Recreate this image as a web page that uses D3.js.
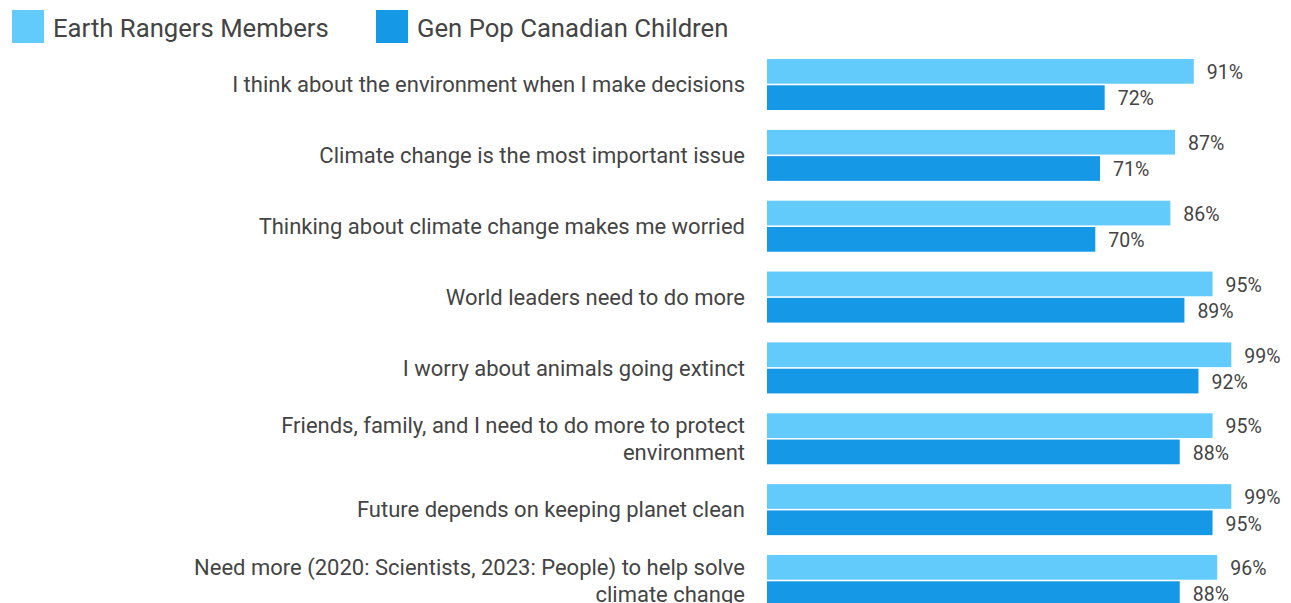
<!DOCTYPE html>
<html>
<head>
<meta charset="utf-8">
<script src="https://cdn.jsdelivr.net/npm/d3@7"></script>
<style>
body { margin: 0; background: #fff; }
text { font-family: Roboto, "Noto Sans", sans-serif; fill: #444; }
</style>
</head>
<body>
<div id="chart"></div>
<script>
// data
var categories = [
  ["I think about the environment when I make decisions"],
  ["Climate change is the most important issue"],
  ["Thinking about climate change makes me worried"],
  ["World leaders need to do more"],
  ["I worry about animals going extinct"],
  ["Friends, family, and I need to do more to protect", "environment"],
  ["Future depends on keeping planet clean"],
  ["Need more (2020: Scientists, 2023: People) to help solve", "climate change"]
];
var series = ["Earth Rangers Members", "Gen Pop Canadian Children"];
var earthRangers = [91, 87, 86, 95, 99, 95, 99, 96];
var genPop = [72, 71, 70, 89, 92, 88, 95, 88];
var colors = ["#63cbfc", "#1598e6"];

var width = 1291, height = 603;

var svg = d3.select("#chart").append("svg")
    .attr("width", width)
    .attr("height", height);

var keys = categories.map(function(d, i) { return i; });

var y0 = d3.scaleBand()
    .domain(keys)
    .range([59, 606])
    .paddingInner(0.28)
    .paddingOuter(0);

var y1 = d3.scaleBand()
    .domain([0, 1])
    .range([0, y0.bandwidth()])
    .paddingInner(0.06);

var x = d3.scaleLinear()
    .domain([0, 100])
    .range([767, 1236]);

var data = keys.map(function(i) {
  return { i: i, label: categories[i], vals: [earthRangers[i], genPop[i]] };
});

var groups = svg.selectAll(".grp")
    .data(data)
    .enter().append("g")
    .attr("class", "grp")
    .attr("transform", function(d) { return "translate(0," + y0(d.i) + ")"; });

groups.selectAll("rect")
    .data(function(d) { return d.vals; })
    .enter().append("rect")
    .attr("x", x(0))
    .attr("y", function(d, j) { return y1(j); })
    .attr("width", function(d) { return x(d) - x(0); })
    .attr("height", y1.bandwidth())
    .attr("fill", function(d, j) { return colors[j]; });

groups.selectAll(".val")
    .data(function(d) { return d.vals; })
    .enter().append("text")
    .attr("class", "val")
    .attr("x", function(d) { return x(d) + 13; })
    .attr("y", function(d, j) { return y1(j) + y1.bandwidth() / 2 + 1; })
    .attr("dy", "0.35em")
    .style("font-size", "19.5px")
    .text(function(d) { return d + "%"; });

// category labels, right aligned
groups.each(function(d) {
  var g = d3.select(this);
  var lines = d.label;
  var lh = 27;
  var mid = y0.bandwidth() / 2;
  lines.forEach(function(line, k) {
    g.append("text")
      .attr("x", 745)
      .attr("y", mid + (k - (lines.length - 1) / 2) * lh)
      .attr("dy", "0.35em")
      .attr("text-anchor", "end")
      .style("font-size", "22px")
      .text(line);
  });
});

// legend
var legendX = [12, 376];
var legend = svg.selectAll(".leg")
    .data(series)
    .enter().append("g")
    .attr("class", "leg")
    .attr("transform", function(d, i) { return "translate(" + legendX[i] + ",10)"; });

legend.append("rect")
    .attr("width", 32)
    .attr("height", 33)
    .attr("fill", function(d, i) { return colors[i]; });

legend.append("text")
    .attr("x", 41)
    .attr("y", 18)
    .attr("dy", "0.35em")
    .style("font-size", "25.7px")
    .text(function(d) { return d; });
</script>
</body>
</html>
